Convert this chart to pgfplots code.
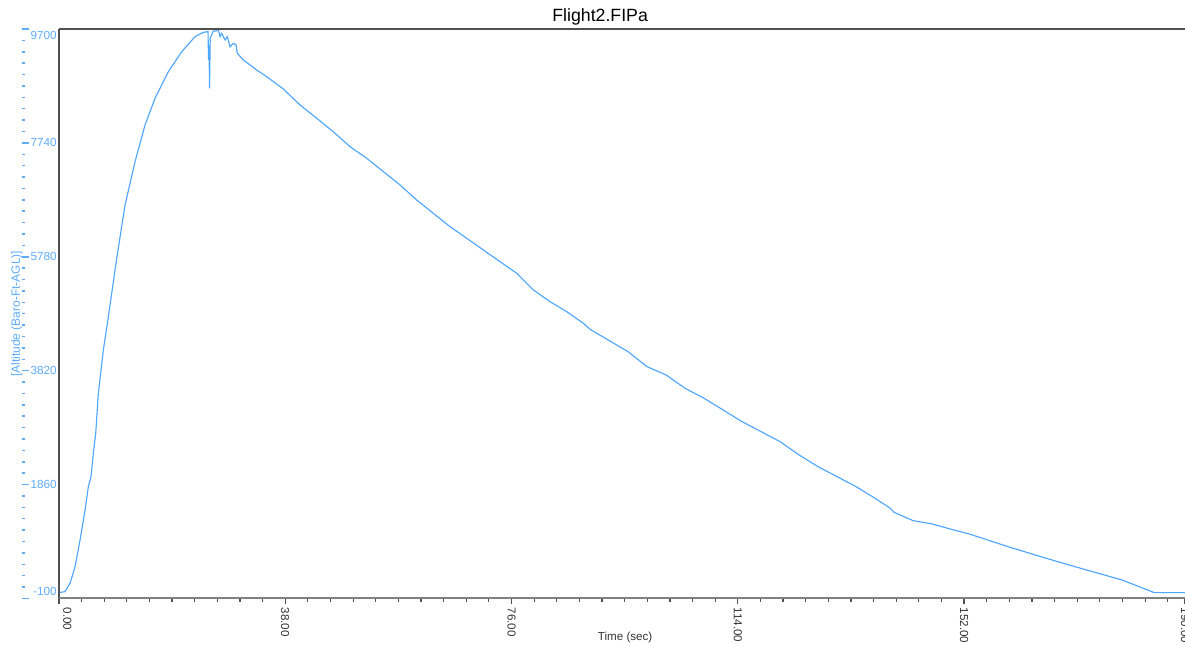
\documentclass[border=0pt]{standalone}
\usepackage{fontspec}
\setmainfont{Liberation Sans}
\usepackage{pgfplots}
\pgfplotsset{compat=1.18}
\definecolor{lineblue}{RGB}{77,166,255}
\definecolor{tickblue}{RGB}{95,172,250}
\definecolor{framegray}{RGB}{80,80,80}
\definecolor{axisgray}{RGB}{128,128,128}
\begin{document}
\begin{tikzpicture}
\begin{axis}[
  at={(0pt,0pt)}, anchor=south west,
  scale only axis, width=844.6pt, height=427.1pt,
  xmin=0, xmax=189.1, ymin=-100, ymax=9700,
  clip mode=individual,
  axis line style={draw=none},
  xtick={0,38,76,114,152,189.1},
  xticklabels={\raisebox{6.3pt}[\height][\depth]{0.00},38.00,76.00,114.00,152.00,190.00},
  minor xtick={3.8,7.6,...,186.3},
  xtick pos=left,
  tick align=outside,
  major tick length=4.5pt, minor tick length=2.6pt,
  tick style={color=framegray, line width=0.9pt},
  xticklabel style={rotate=-90, anchor=west, inner sep=0pt, font=\fontsize{8.7}{10}\selectfont, text=black!80},
  xticklabel shift=2.25pt,
  ytick={-100,1860,3820,5780,7740,9700},
  yticklabels={\raisebox{5.6pt}[\height][\depth]{-100},1860,3820,5780,7740,\raisebox{-4.5pt}[\height][\depth]{9700}},
  ytick pos=left,
  ytick style={draw=none},
  yticklabel style={anchor=east, inner sep=0pt, font=\fontsize{8.8}{10}\selectfont, text=tickblue},
  yticklabel shift=-3pt,
  title={Flight2.FIPa},
  title style={at={(axis description cs:0.4806,1)}, anchor=base, yshift=0pt, inner sep=0pt, font=\fontsize{13.3}{15}\selectfont, text=black},
  xlabel={Time (sec)},
  xlabel style={at={(axis description cs:0.5028,0)}, anchor=base, yshift=-31.5pt, inner sep=0pt, font=\fontsize{8.7}{10}\selectfont, text=black!80},
  ylabel={[Altitude (Baro-Ft-AGL)]},
  ylabel style={at={(axis description cs:-0.0375,0.5)}, anchor=center, inner sep=0pt, font=\fontsize{9}{10}\selectfont, text=tickblue},
]
\addplot[lineblue, line width=0.85pt] coordinates {
(0,0) (1.02,17) (1.87,162) (2.71,447) (3.55,907) (4.39,1423) (4.94,1824)
(5.39,1996) (5.78,2399) (6.18,2743) (6.62,3431) (7.46,4176) (8.30,4749)
(9.71,5754) (11.10,6671) (12.78,7416) (14.46,8048) (16.14,8507) (18.37,8965)
(20.62,9309) (22.85,9568) (24.25,9643) (25.04,9654) (25.12,9167) (25.21,9425)
(25.29,8680) (25.41,9545) (25.93,9666) (26.38,9666) (26.77,9695) (27.05,9568)
(27.34,9626) (27.89,9511) (28.28,9568) (28.73,9395) (29.29,9454) (29.74,9425)
(29.96,9282) (30.97,9167) (32.09,9081) (33.22,8994) (34.90,8879) (37.68,8668)
(40.49,8392) (43.29,8163) (46.08,7932) (48.88,7675) (51.69,7475) (54.47,7246)
(57.28,7016) (60.08,6757) (62.87,6528) (65.68,6298) (68.48,6098) (71.27,5897)
(74.07,5696) (76.88,5496) (79.66,5209) (82.47,5007) (85.27,4835) (88.06,4636)
(89.18,4532) (91.74,4378) (95.57,4147) (98.76,3889) (101.95,3746) (105.14,3517)
(108.33,3345) (111.52,3144) (114.71,2943) (117.90,2771) (121.09,2599) (124.29,2369)
(127.48,2168) (130.67,1996) (133.86,1824) (137.05,1624) (139.60,1452) (140.24,1383)
(143.43,1239) (146.62,1182) (149.81,1091) (153.00,1005) (159.38,791) (165.76,592)
(172.14,402) (178.52,218) (183.93,0) (189.1,0)
};
\draw[framegray, line width=1.1pt] (rel axis cs:0,0) -- (rel axis cs:0,1);
\draw[framegray, line width=1.1pt] (rel axis cs:0,1) -- (rel axis cs:1,1);
\draw[axisgray, line width=1.5pt] (rel axis cs:0,0) -- (rel axis cs:1,0);
\end{axis}
\begin{axis}[
  at={(0pt,0pt)}, anchor=south west,
  scale only axis, width=844.6pt, height=427.1pt,
  xmin=0, xmax=189.1, ymin=-100, ymax=9700,
  axis line style={draw=none},
  xtick=\empty,
  ytick={-100,1860,3820,5780,7740,9700},
  minor y tick num=9,
  yticklabels={},
  ytick pos=left,
  tick align=inside,
  major tick length=5.7pt, minor tick length=2.5pt,
  tick style={color=tickblue, line width=1.1pt, xshift=-27.9pt},
]
\end{axis}
\pgfresetboundingbox
\path[use as bounding box] (-44.2pt,-35.6pt) rectangle (844.6pt,448.85pt);
\end{tikzpicture}
\end{document}
